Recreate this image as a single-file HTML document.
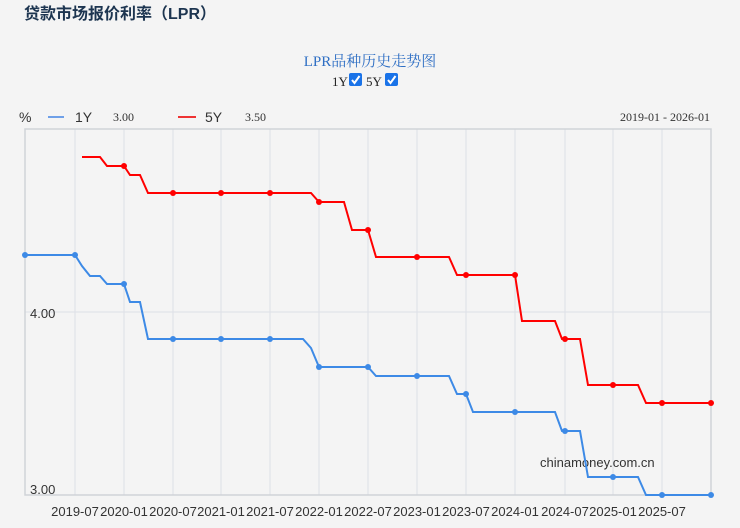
<!DOCTYPE html><html><head><meta charset="utf-8"><style>
body{margin:0;width:740px;height:523px;background:#f4f4f4;overflow:hidden;font-family:"Liberation Sans","Noto Sans CJK SC",sans-serif}
</style></head><body>
<svg width="740" height="523" xmlns="http://www.w3.org/2000/svg">
<text x="24" y="19" font-size="16" font-weight="bold" fill="#1d3550" font-family="Liberation Sans,Noto Sans CJK SC,sans-serif">贷款市场报价利率（LPR）</text>
<text x="370" y="66" font-size="15" fill="#2f6fc4" text-anchor="middle" font-family="Liberation Serif,Noto Serif CJK SC,serif">LPR品种历史走势图</text>
<text x="332" y="86" font-size="13" fill="#222" font-family="Liberation Serif,serif">1Y</text>
<rect x="349" y="73" width="13" height="13" rx="2" fill="#1a73e8"/><path d="M352 80l2.5 3 5-7" stroke="#fff" stroke-width="2" fill="none"/>
<text x="366" y="86" font-size="13" fill="#222" font-family="Liberation Serif,serif">5Y</text>
<rect x="385" y="73" width="13" height="13" rx="2" fill="#1a73e8"/><path d="M388 80l2.5 3 5-7" stroke="#fff" stroke-width="2" fill="none"/>
<text x="19" y="122" font-size="14" fill="#333">%</text>
<line x1="48" y1="117" x2="64" y2="117" stroke="#6fa0e8" stroke-width="2"/>
<text x="75" y="122" font-size="14" fill="#333">1Y</text>
<text x="113" y="121" font-size="12" fill="#333" font-family="Liberation Serif,serif">3.00</text>
<line x1="178" y1="117" x2="196" y2="117" stroke="#e33" stroke-width="2"/>
<text x="205" y="122" font-size="14" fill="#333">5Y</text>
<text x="245" y="121" font-size="12" fill="#333" font-family="Liberation Serif,serif">3.50</text>
<text x="710" y="121" font-size="12" fill="#333" text-anchor="end" font-family="Liberation Serif,serif">2019-01 - 2026-01</text>
<g stroke="#dde0e6" stroke-width="1">
<line x1="75" y1="129" x2="75" y2="495"/><line x1="124" y1="129" x2="124" y2="495"/><line x1="173" y1="129" x2="173" y2="495"/><line x1="221" y1="129" x2="221" y2="495"/><line x1="270" y1="129" x2="270" y2="495"/><line x1="319" y1="129" x2="319" y2="495"/><line x1="368" y1="129" x2="368" y2="495"/><line x1="417" y1="129" x2="417" y2="495"/><line x1="466" y1="129" x2="466" y2="495"/><line x1="515" y1="129" x2="515" y2="495"/><line x1="565" y1="129" x2="565" y2="495"/><line x1="613" y1="129" x2="613" y2="495"/><line x1="662" y1="129" x2="662" y2="495"/>
<line x1="25" y1="312" x2="711" y2="312"/>
</g>
<rect x="25" y="129" width="686" height="366" fill="none" stroke="#d0d3d8" stroke-width="1.5"/>
<text x="30" y="318" font-size="13" fill="#333">4.00</text>
<text x="30" y="494" font-size="13" fill="#333">3.00</text>
<text x="540" y="467" font-size="13" fill="#333">chinamoney.com.cn</text>
<g font-size="13" fill="#333" text-anchor="middle">
<text x="75" y="516">2019-07</text><text x="124" y="516">2020-01</text><text x="173" y="516">2020-07</text><text x="221" y="516">2021-01</text><text x="270" y="516">2021-07</text><text x="319" y="516">2022-01</text><text x="368" y="516">2022-07</text><text x="417" y="516">2023-01</text><text x="466" y="516">2023-07</text><text x="515" y="516">2024-01</text><text x="565" y="516">2024-07</text><text x="613" y="516">2025-01</text><text x="662" y="516">2025-07</text>
</g>
<polyline fill="none" stroke="#3d8ae6" stroke-width="2" points="25,255 75,255 82,266 90,276 100,276 107,284 124,284 130,302 140,302 148,339 303,339 311,348 319,367 368,367 376,376 449,376 457,394 466,394 473,412 555,412 562,431 580,431 588,477 638,477 646,495 711,495"/>
<g fill="#3d8ae6"><circle cx="25" cy="255" r="3"/><circle cx="75" cy="255" r="3"/><circle cx="124" cy="284" r="3"/><circle cx="173" cy="339" r="3"/><circle cx="221" cy="339" r="3"/><circle cx="270" cy="339" r="3"/><circle cx="319" cy="367" r="3"/><circle cx="368" cy="367" r="3"/><circle cx="417" cy="376" r="3"/><circle cx="466" cy="394" r="3"/><circle cx="515" cy="412" r="3"/><circle cx="565" cy="431" r="3"/><circle cx="613" cy="477" r="3"/><circle cx="662" cy="495" r="3"/><circle cx="711" cy="495" r="3"/></g>
<polyline fill="none" stroke="#f00" stroke-width="2" points="82,157 100,157 107,166 124,166 130,175 140,175 148,193 311,193 319,202 344,202 352,230 368,230 376,257 449,257 457,275 515,275 522,321 555,321 562,339 580,339 588,385 638,385 646,403 711,403"/>
<g fill="#f00"><circle cx="124" cy="166" r="3"/><circle cx="173" cy="193" r="3"/><circle cx="221" cy="193" r="3"/><circle cx="270" cy="193" r="3"/><circle cx="319" cy="202" r="3"/><circle cx="368" cy="230" r="3"/><circle cx="417" cy="257" r="3"/><circle cx="466" cy="275" r="3"/><circle cx="515" cy="275" r="3"/><circle cx="565" cy="339" r="3"/><circle cx="613" cy="385" r="3"/><circle cx="662" cy="403" r="3"/><circle cx="711" cy="403" r="3"/></g>
</svg>
</body></html>
